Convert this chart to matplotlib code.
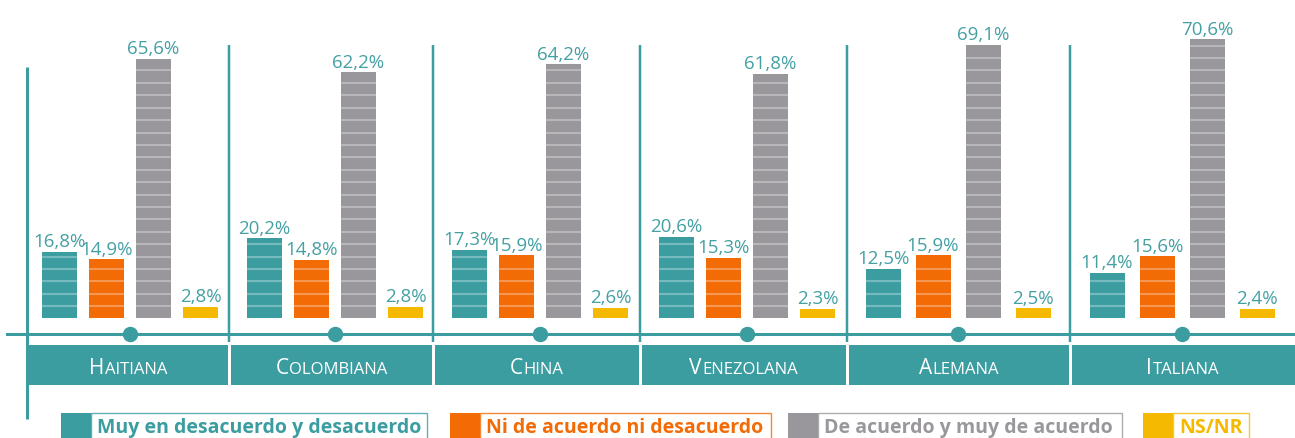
import numpy as np
import matplotlib
matplotlib.use('Agg')
import matplotlib.pyplot as plt
from matplotlib.patches import Rectangle

plt.rcParams['font.family'] = ['Open Sans', 'DejaVu Sans']

# datos del grafico
nacionalidades = ['Haitiana', 'Colombiana', 'China', 'Venezolana', 'Alemana', 'Italiana']
series = ['Muy en desacuerdo y desacuerdo', 'Ni de acuerdo ni desacuerdo',
          'De acuerdo y muy de acuerdo', 'NS/NR']
desacuerdo = [16.8, 20.2, 17.3, 20.6, 12.5, 11.4]
neutral = [14.9, 14.8, 15.9, 15.3, 15.9, 15.6]
acuerdo = [65.6, 62.2, 64.2, 61.8, 69.1, 70.6]
nsnr = [2.8, 2.8, 2.6, 2.3, 2.5, 2.4]

colores = ['#3c9da1', '#f26b05', '#99979c', '#f4b900']
teal = '#3c9da1'
color_etiqueta = '#45a0a4'

W, H = 1295, 439
fig = plt.figure(figsize=(W / 100, H / 100), dpi=100)

# posiciones (pixeles)
sep = [27, 229, 433, 640, 847, 1070, 1295]     # lineas que separan grupos
centros = [130, 335, 540, 747, 958, 1182]      # centro de cada grupo
paso = [47, 47, 47, 47, 50, 50]                # distancia entre barras
base_px = 319                                  # donde empiezan las barras
px_por = 3.95                                  # pixeles por punto porcentual
ancho = 35

# eje de decoracion, cubre toda la figura en pixeles
deco = fig.add_axes([0, 0, 1, 1])
deco.set_xlim(0, W)
deco.set_ylim(H, 0)
deco.axis('off')

# eje de las barras
ax = fig.add_axes([0, (H - base_px) / H, 1, base_px / H])
ax.set_xlim(0, W)
ax.set_ylim(0, base_px / px_por)
ax.axis('off')
ax.patch.set_alpha(0)

valores = [desacuerdo, neutral, acuerdo, nsnr]
for i, vals in enumerate(valores):
    xs = [c + (i - 1.5) * p for c, p in zip(centros, paso)]
    ax.bar(xs, vals, width=ancho, color=colores[i], linewidth=0)
    for x, v in zip(xs, vals):
        niveles = np.arange(3.0, v - 0.8, 3.14)            # rayas claras
        ax.hlines(niveles, x - ancho / 2, x + ancho / 2, color='white', alpha=0.3, lw=1.5)
        ax.annotate(f'{v:.1f}'.replace('.', ',') + '%', (x, v), xytext=(0, 4),
                    textcoords='offset points', ha='center', va='baseline',
                    fontsize=13.5, color=color_etiqueta)

# lineas
deco.plot([27, 27], [68, 420], color=teal, lw=3 * 0.72, solid_capstyle='butt')
deco.vlines(sep[1:-1], 46, 343, color=teal, lw=2.5 * 0.72)
deco.plot([7, W], [335, 335], color=teal, lw=3 * 0.72)
deco.plot(centros, [335] * len(centros), 'o', ms=14 * 0.72, color=teal)

# banda de categorias
for k in range(len(nacionalidades)):
    x0 = sep[k] + (0 if k == 0 else 1.5)
    x1 = sep[k + 1] - (1.5 if k < len(nacionalidades) - 1 else 0)
    deco.add_patch(Rectangle((x0, 346), x1 - x0, 40, color=teal, lw=0))

# nombres en versalitas
renderer = fig.canvas.get_renderer()
for k, nombre in enumerate(nacionalidades):
    cx = (sep[k] + sep[k + 1]) / 2
    t1 = deco.text(0, 374, nombre[0].upper(), fontsize=15, color='white', va='baseline', ha='left')
    t2 = deco.text(0, 374, nombre[1:].upper(), fontsize=12, color='white', va='baseline', ha='left')
    w1 = t1.get_window_extent(renderer).width
    w2 = t2.get_window_extent(renderer).width
    x0 = cx - (w1 + w2) / 2
    t1.set_x(x0)
    t2.set_x(x0 + w1 + 0.5)

# leyenda
leg_x = [61, 450, 788, 1143]
leg_fin = [427, 771, 1122, 1249]
for i in range(len(series)):
    deco.add_patch(Rectangle((leg_x[i], 414), 30, 40, color=colores[i], lw=0))
    deco.add_patch(Rectangle((leg_x[i] + 30, 414.5), leg_fin[i] - leg_x[i] - 30, 40,
                             fill=False, edgecolor=colores[i], alpha=0.8, lw=1))
    deco.text(leg_x[i] + 36, 433, series[i], fontsize=14, fontweight='bold',
              color=colores[i], va='baseline', ha='left')

fig.savefig('out.png', dpi=100)
